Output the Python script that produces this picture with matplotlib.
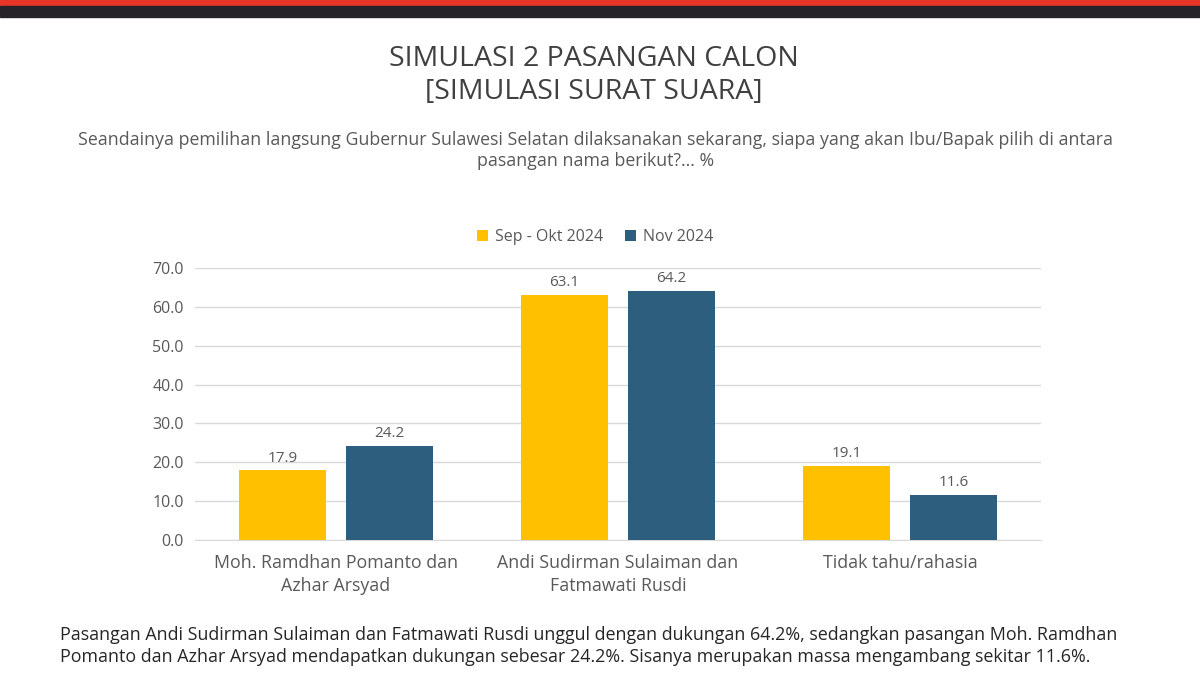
import matplotlib
matplotlib.use('Agg')
import matplotlib.pyplot as plt
import numpy as np

categories = ['Moh. Ramdhan Pomanto dan\nAzhar Arsyad',
              'Andi Sudirman Sulaiman dan\nFatmawati Rusdi',
              'Tidak tahu/rahasia']
series_names = ['Sep - Okt 2024', 'Nov 2024']
sep_okt = [17.9, 63.1, 19.1]
nov = [24.2, 64.2, 11.6]
yticks = [0, 10, 20, 30, 40, 50, 60, 70]

YELLOW = '#FFC000'
BLUE = '#2E5E7E'
GREY_TXT = '#595959'

plt.rcParams['font.family'] = ['Open Sans', 'DejaVu Sans']

fig = plt.figure(figsize=(12, 6.75), dpi=100)
fig.patch.set_facecolor('white')

# top bands
fig.patches.append(plt.Rectangle((0, 1 - 6 / 675), 1, 6 / 675, transform=fig.transFigure,
                                 color='#E8352A', zorder=0))
fig.patches.append(plt.Rectangle((0, 1 - 17 / 675), 1, 11 / 675, transform=fig.transFigure,
                                 color='#26232B', zorder=0))

fig.text(0.495, 0.913, 'SIMULASI 2 PASANGAN CALON', ha='center', va='center',
         fontsize=20.5, color='#404040')
fig.text(0.495, 0.864, '[SIMULASI SURAT SUARA]', ha='center', va='center',
         fontsize=20.5, color='#404040')
fig.text(0.496, 0.792, 'Seandainya pemilihan langsung Gubernur Sulawesi Selatan dilaksanakan sekarang, siapa yang akan Ibu/Bapak pilih di antara',
         ha='center', va='center', fontsize=12.8, color=GREY_TXT)
fig.text(0.496, 0.762, 'pasangan nama berikut?... %', ha='center', va='center',
         fontsize=12.8, color=GREY_TXT)

ax = fig.add_axes([0.1625, 0.2, 0.705, 0.403])
x = np.arange(len(categories))
w = 0.31
b1 = ax.bar(x - 0.19, sep_okt, w, color=YELLOW, label=series_names[0], zorder=3)
b2 = ax.bar(x + 0.19, nov, w, color=BLUE, label=series_names[1], zorder=3)
for bars in (b1, b2):
    for r in bars:
        ax.text(r.get_x() + r.get_width() / 2, r.get_height() + 1.2, f'{r.get_height():.1f}',
                ha='center', va='bottom', fontsize=11, color=GREY_TXT)

ax.set_xlim(-0.5, 2.5)
ax.set_ylim(0, 70)
ax.set_yticks(yticks)
ax.set_yticklabels([f'{v:.1f}' for v in yticks], fontsize=11.5, color=GREY_TXT)
ax.set_xticks(x)
ax.set_xticklabels(categories, fontsize=12.8, color=GREY_TXT, linespacing=1.35)
ax.yaxis.grid(True, color='#D9D9D9', lw=1, zorder=0)
for s in ('top', 'right', 'left'):
    ax.spines[s].set_visible(False)
ax.spines['bottom'].set_color('#D9D9D9')
ax.tick_params(length=0, pad=10)
ax.tick_params(axis='y', pad=8)

ax.legend(loc='lower center', bbox_to_anchor=(0.473, 1.03), ncol=2, frameon=False,
          fontsize=11.5, labelcolor=GREY_TXT, handlelength=0.7, handleheight=0.7,
          columnspacing=1.4, handletextpad=0.4)

fig.text(0.05, 0.059, 'Pasangan Andi Sudirman Sulaiman dan Fatmawati Rusdi unggul dengan dukungan 64.2%, sedangkan pasangan Moh. Ramdhan',
         ha='left', va='center', fontsize=12.9, color='#262626')
fig.text(0.05, 0.027, 'Pomanto dan Azhar Arsyad mendapatkan dukungan sebesar 24.2%. Sisanya merupakan massa mengambang sekitar 11.6%.',
         ha='left', va='center', fontsize=12.9, color='#262626')

fig.savefig('out.png', dpi=100)
